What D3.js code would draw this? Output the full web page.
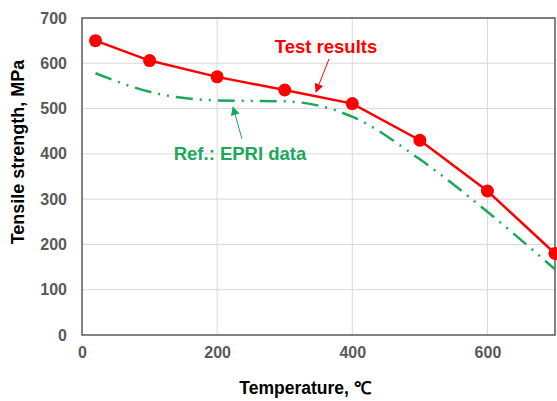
<!DOCTYPE html>
<html>
<head>
<meta charset="utf-8">
<title>Tensile strength vs temperature</title>
<script src="https://cdn.jsdelivr.net/npm/d3@7"></script>
<style>
body { margin: 0; background: #fff; }
svg text { font-family: Arial, "Liberation Sans", sans-serif; font-weight: bold; }
</style>
</head>
<body>
<svg id="chart" width="557" height="401"></svg>
<script>
// data
var testTemps = [20, 100, 200, 300, 400, 500, 600, 700];
var testValues = [650, 606, 570, 541, 511, 430, 318, 180];
var epriTemps = [20, 100, 200, 300, 400, 500, 600, 700];
var epriValues = [578, 537, 518, 516, 482, 388, 272, 145];
var xTicks = [0, 200, 400, 600];
var yTicks = [0, 100, 200, 300, 400, 500, 600, 700];

var margin = {left: 82, top: 18, right: 2, bottom: 66};
var width = 557, height = 401;
var svg = d3.select("#chart");

var x = d3.scaleLinear().domain([0, 700]).range([margin.left, width - margin.right]);
var y = d3.scaleLinear().domain([0, 700]).range([height - margin.bottom, margin.top]);

// gridlines
svg.append("g").selectAll("line").data(yTicks.slice(1))
  .join("line")
  .attr("x1", x(0)).attr("x2", x(700))
  .attr("y1", function(d) { return y(d); }).attr("y2", function(d) { return y(d); })
  .attr("stroke", "#d9d9d9").attr("stroke-width", 1);
svg.append("g").selectAll("line").data(xTicks.slice(1))
  .join("line")
  .attr("y1", y(0)).attr("y2", y(700))
  .attr("x1", function(d) { return x(d); }).attr("x2", function(d) { return x(d); })
  .attr("stroke", "#d9d9d9").attr("stroke-width", 1);

// frame
svg.append("rect")
  .attr("x", x(0)).attr("y", y(700))
  .attr("width", x(700) - x(0)).attr("height", y(0) - y(700))
  .attr("fill", "none").attr("stroke", "#595959").attr("stroke-width", 1.5);

// axes
var xAxis = svg.append("g")
  .attr("transform", "translate(0," + y(0) + ")")
  .call(d3.axisBottom(x).tickValues(xTicks).tickSize(0).tickPadding(12));
var yAxis = svg.append("g")
  .attr("transform", "translate(" + x(0) + ",0)")
  .call(d3.axisLeft(y).tickValues(yTicks).tickSize(0).tickPadding(15));
[xAxis, yAxis].forEach(function(a) {
  a.select(".domain").remove();
  a.selectAll("text")
    .attr("fill", "#595959")
    .style("font-size", "16px")
    .style("font-family", "Arial, 'Liberation Sans', sans-serif")
    .style("font-weight", "bold");
});

// axis titles
svg.append("text")
  .attr("x", 305).attr("y", 394)
  .attr("text-anchor", "middle")
  .style("font-size", "17.5px")
  .text("Temperature, \u2103");
svg.append("text")
  .attr("transform", "translate(24,152) rotate(-90)")
  .attr("text-anchor", "middle")
  .style("font-size", "18px")
  .text("Tensile strength, MPa");

svg.append("clipPath").attr("id", "plotclip")
  .append("rect")
  .attr("x", x(0)).attr("y", y(700) - 10)
  .attr("width", x(700) - x(0) + 2).attr("height", y(0) - y(700) + 10);

// EPRI reference curve
var epri = epriTemps.map(function(t, i) { return [t, epriValues[i]]; });
svg.append("path")
  .datum(epri)
  .attr("d", d3.line()
    .x(function(d) { return x(d[0]); })
    .y(function(d) { return y(d[1]); })
    .curve(d3.curveMonotoneX))
  .attr("fill", "none")
  .attr("stroke", "#1aa85a")
  .attr("stroke-width", 2.5)
  .attr("stroke-dasharray", "17,7,2,7,2,7");

// test results
var test = testTemps.map(function(t, i) { return [t, testValues[i]]; });
var g = svg.append("g").attr("clip-path", "url(#plotclip)");
g.append("path")
  .datum(test)
  .attr("d", d3.line()
    .x(function(d) { return x(d[0]); })
    .y(function(d) { return y(d[1]); }))
  .attr("fill", "none")
  .attr("stroke", "#ff0000")
  .attr("stroke-width", 2.5);
g.selectAll("circle").data(test)
  .join("circle")
  .attr("cx", function(d) { return x(d[0]); })
  .attr("cy", function(d) { return y(d[1]); })
  .attr("r", 6.5)
  .attr("fill", "#ff0000");

// annotations
var defs = svg.append("defs");
function marker(id, color) {
  defs.append("marker")
    .attr("id", id)
    .attr("viewBox", "0 0 10 10")
    .attr("refX", 9).attr("refY", 5)
    .attr("markerWidth", 9).attr("markerHeight", 9)
    .attr("markerUnits", "userSpaceOnUse")
    .attr("orient", "auto")
    .append("path")
    .attr("d", "M0,0 L10,5 L0,10 z")
    .attr("fill", color);
}
marker("arrRed", "#ff0000");
marker("arrGreen", "#1aa85a");

svg.append("text")
  .attr("x", 326).attr("y", 53)
  .attr("text-anchor", "middle")
  .attr("fill", "#ff0000")
  .style("font-size", "18.5px")
  .text("Test results");
svg.append("line")
  .attr("x1", 329).attr("y1", 59).attr("x2", 316).attr("y2", 92)
  .attr("stroke", "#ff0000").attr("stroke-width", 1)
  .attr("marker-end", "url(#arrRed)");

svg.append("text")
  .attr("x", 240).attr("y", 160)
  .attr("text-anchor", "middle")
  .attr("fill", "#1aa85a")
  .style("font-size", "18.5px")
  .text("Ref.: EPRI data");
svg.append("line")
  .attr("x1", 242).attr("y1", 139).attr("x2", 233).attr("y2", 107)
  .attr("stroke", "#1aa85a").attr("stroke-width", 1)
  .attr("marker-end", "url(#arrGreen)");
</script>
</body>
</html>
